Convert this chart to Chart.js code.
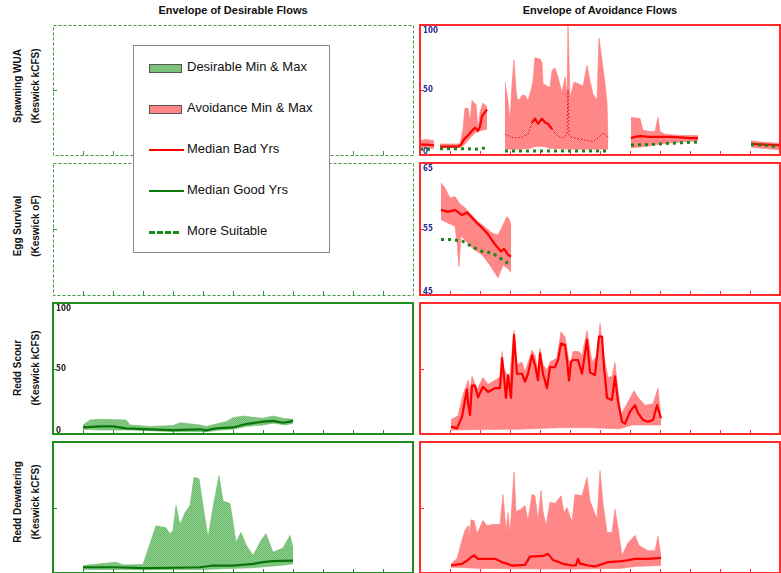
<!DOCTYPE html>
<html>
<head>
<meta charset="utf-8">
<script src="https://cdn.jsdelivr.net/npm/chart.js@4/dist/chart.umd.min.js"></script>
<style>
  html, body { margin: 0; padding: 0; background: #fff; overflow: hidden; }
  #wrap { position: relative; width: 781px; height: 573px; overflow: hidden; font-family: 'Liberation Sans', Arial, sans-serif; }
  canvas { position: absolute; }
  .title { position: absolute; top: 4px; width: 360px; text-align: center; font: bold 11px 'Liberation Sans', Arial, sans-serif; color: #111; }
  .ylab { position: absolute; left: -53px; width: 160px; height: 36px; text-align: center;
          font: bold 10px 'Liberation Sans', Arial, sans-serif; line-height: 18px; color: #111; transform: rotate(-90deg); }
  #legend { position: absolute; left: 133px; top: 45px; width: 195px; height: 206px; background: #fff;
            border: 1px solid #8a8a8a; z-index: 10; }
  .item { position: absolute; left: 15px; height: 16px; font-size: 13px; color: #111; white-space: nowrap; }
  .item span { position: absolute; left: 38px; top: -1px; }
  .sw { position: absolute; left: 0; top: 4px; width: 31px; height: 7px; border: 1px solid #555; }
  .ln { position: absolute; left: 0; top: 7px; width: 35px; height: 0; }
</style>
</head>
<body>
<div id="wrap">
  <div class="title" style="left:53px">Envelope of Desirable Flows</div>
  <div class="title" style="left:420px">Envelope of Avoidance Flows</div>

  <div class="ylab" style="top:68px">Spawning WUA<br>(Keswick kCFS)</div>
  <div class="ylab" style="top:208px">Egg Survival<br>(Keswick oF)</div>
  <div class="ylab" style="top:350px">Redd Scour<br>(Keswick kCFS)</div>
  <div class="ylab" style="top:484px">Redd Dewatering<br>(Keswick kCFS)</div>

  <div id="legend">
    <div class="item" style="top:14px"><div class="sw" style="background:#7cc27c"></div><span>Desirable Min &amp; Max</span></div>
    <div class="item" style="top:55px"><div class="sw" style="background:#ff8484"></div><span>Avoidance Min &amp; Max</span></div>
    <div class="item" style="top:96px"><div class="ln" style="border-top:2px solid #ff0000"></div><span>Median Bad Yrs</span></div>
    <div class="item" style="top:137px"><div class="ln" style="border-top:2px solid #0a7a0a"></div><span>Median Good Yrs</span></div>
    <div class="item" style="top:178px"><div class="ln" style="border-top:3px dashed #1a8a1a; width:30px"></div><span>More Suitable</span></div>
  </div>
</div>

<script>
// eje x en dias (0..360), marcas cada 30
const monthTicks = [30, 60, 90, 120, 150, 180, 210, 240, 270, 300, 330];
const kcfsLabels = [0, 50, 100];
const tempLabels = [45, 55, 65];

// --- Spawning WUA, avoidance (null = corte entre tramos)
const wuaAvoidMax = [[0,11],[5,12],[10,11.5],[14,11], null,
  [20,8.5],[30,8.5],[40,8.5],[43,20],[45,36],[48,36],[50,26],[52,42],[54,40],[56,39],[58,20],[60,33],[63,40],[67,37], null,
  [85,56],[88,42],[90,26],[92,55],[94,73],[96,50],[97,44],[99,42],[102,46],[105,46],[108,42],[111,50],[113,57],[115,75],
  [118,74],[120,74],[122,71],[123,55],[127,53],[130,52],[132,65],[135,67],[138,60],[142,48],[145,60],[147,45],[148,100],
  [150,44],[154,56],[158,55],[163,53],[167,69],[170,57],[173,47],[177,42],[179,90],[182,73],[185,55],[187,40],[188,11], null,
  [211,29],[220,28],[223,19],[230,18],[235,18],[238,29],[240,18],[245,16],[260,15],[278,15], null,
  [331,11],[340,10],[350,9.5],[360,9]];
const wuaAvoidMin = [[0,5.5],[14,5], null,
  [20,5.5],[40,5.5],[45,8.5],[50,13],[55,17],[60,18.6],[67,20], null,
  [85,4.5],[100,4.5],[110,5],[115,6.5],[125,6.5],[130,5],[150,4.5],[170,4.5],[188,4.5], null,
  [211,5.5],[225,6.5],[240,8.5],[260,10],[278,11], null,
  [331,6],[345,5],[360,4]];
const wuaAvoidBad = [[0,8],[7,8],[14,7.5], null,
  [20,6.4],[30,6.4],[38,6.4],[41,8],[44,12],[48,15],[52,18.6],[55,21],[58,18.6],[60,22],[62,30],[65,33],[67,35], null,
  [85,16],[94,13],[102,13.6],[108,16],[112,25],[115,28],[118,24],[122,28],[125,25],[128,24],[132,20],[137,15],[142,13],
  [146,15],[147,16],[148,50],[149,16],[150,14],[155,13],[162,12],[168,11],[173,10],[178,13],[183,17],[188,14], null,
  [211,13],[215,14],[220,14.5],[230,14],[240,14],[250,14],[260,13.5],[270,13],[278,13], null,
  [331,8.5],[345,8],[360,7.5]];
const wuaAvoidSuit = [[0,4.5],[14,4.5], null,
  [20,4.9],[45,4.9],[55,4.4],[67,5.6], null,
  [85,3],[188,3], null,
  [211,7.7],[230,8],[250,9],[278,10], null,
  [331,8.2],[345,7.5],[360,6]];

// --- Egg survival, avoidance (oF)
const eggAvoidMax = [[21,62],[25,61.2],[30,59.7],[35,59.9],[40,58.8],[45,58.2],[52,57.1],[58,56.1],[65,55.3],[72,54.4],
  [78,54.1],[83,55.6],[87,56.9],[89,56.5],[91,55.6]];
const eggAvoidMin = [[21,56.4],[28,55.9],[35,55.4],[37,53],[39,49.3],[41,54],[47,53],[53,52],[62,51.1],[70,49.5],
  [78,47.6],[83,49.5],[88,49],[91,48.4]];
const eggAvoidBad = [[21,57.9],[28,57.6],[35,57.9],[42,57.1],[47,57.5],[52,56.7],[57,55.9],[62,55.2],[67,54.4],[72,53.3],
  [77,52.3],[81,51.6],[84,52.0],[88,51.1],[91,50.8]];
const eggAvoidSuit = [[21,53.4],[31,53.4],[42,53.2],[49,52.6],[55,52.1],[62,51.6],[72,51.4],[80,50.6],[88,49.8]];

// --- Redd scour
const scourDesMax = [[30,6.9],[37,10.7],[47,11.2],[73,10.7],[77,6.9],[97,5.8],[120,6.4],[127,8.6],[147,6.9],[153,5.8],
  [173,9.4],[180,12.5],[190,13.7],[200,12.7],[210,12],[220,13.7],[230,12],[240,11.2]];
const scourDesMin = [[30,3.6],[47,3],[80,3],[120,1.8],[153,1.8],[167,3],[180,3.6],[193,5.8],[210,6.9],[220,8.3],[233,6.9],[240,8.3]];
const scourDesGood = [[30,5],[47,5.8],[60,5.8],[73,4.3],[97,3.6],[120,3],[147,3.6],[153,2.8],[163,4.3],[180,5],[193,7.6],
  [210,9.4],[220,10],[230,8.6],[237,9.4],[240,10.3]];

const scourAvoidMax = [[31,11],[38,14],[43,30],[48,41],[50,33],[52,44],[57,34],[63,43],[68,38],[75,41],[81,44],[82,63],
  [84,50],[86,47],[88,34],[90,47],[94,79],[97,52.7],[102,55],[105,47.6],[112,64],[115,60],[118,49],[120,65.4],[123,52.7],
  [127,49],[130,55],[137,58],[141,78],[145,74],[148,60],[150,52.7],[153,63],[159,63],[162,60],[167,79],[172,55],[177,60],
  [180,84.5],[183,63],[188,43],[192,44],[195,54.5],[197,40],[201,15],[207,23],[214,33],[218,28],[225,22],[233,23],
  [238,35],[241,12]];
const scourAvoidMin = [[31,3],[60,3.5],[100,3.7],[140,4.8],[170,4.8],[200,4],[212,6.9],[241,6.9]];
const scourAvoidBad = [[31,5.6],[37,4.3],[42,13],[45,26],[47,34],[48,24],[50,14.5],[52,37],[55,37],[58,28],[63,36],[68,32],
  [75,35],[80,35],[82,58],[84,44],[86,27.5],[88,45],[91,27.5],[94,75.6],[97,46],[102,46],[105,40],[108,46],[112,60],
  [115,52.7],[118,41],[120,61.6],[123,46],[127,35],[130,51],[135,51],[138,56.5],[141,69],[145,68],[147,56.5],[149,41],
  [151,55],[153,56.5],[158,56.5],[162,46],[167,71.8],[170,47],[175,45],[179,74.3],[182,74.3],[184,51],[187,27.5],
  [192,26],[195,44],[198,25],[202,9.4],[205,7.9],[210,17],[215,22],[218,16],[223,10.7],[228,9.4],[233,10.7],[237,22],[241,12]];

// --- Redd dewatering
const dewatDesMax = [[30,5.7],[63,8.3],[70,6.2],[90,6.5],[93,13.4],[103,36],[113,34.6],[117,30],[120,32.5],[123,51.5],
  [127,37],[132,46],[137,51.5],[141,73],[146,72],[150,51.5],[155,27.3],[160,50],[166,74.4],[170,55],[177,53],[180,38.8],
  [183,23.5],[188,31],[193,21.6],[200,13.4],[208,24.8],[213,30],[220,15.9],[230,19],[237,28.7],[240,19]];
const dewatDesMin = [[30,2.7],[100,2.5],[150,2.7],[200,4],[230,6],[240,7]];
const dewatDesGood = [[30,4.4],[63,4.4],[90,3.7],[120,4],[147,4.4],[160,5.7],[180,5.7],[200,7],[210,8.3],[220,9],[240,9.5]];

const dewatAvoidMax = [[31,7],[37,11],[42,25],[45,32.5],[48,36],[49,22],[51,40.6],[54,40],[57,30],[63,40],[67,36],[72,37],
  [80,37],[83,60],[86,32.5],[88,46],[90,30],[94,77],[96,47],[101,48.7],[105,51.5],[108,40],[112,60],[115,59],[118,40],
  [121,63],[123,47],[126,36],[130,54],[135,53],[141,59],[144,46],[147,50],[152,39],[155,60],[162,59],[167,73],[170,55],
  [177,41],[180,78],[183,53],[187,31],[192,31],[195,48.7],[198,34.6],[202,13.4],[208,23],[215,28.7],[219,21],[228,17],
  [235,17],[238,28],[241,12.3]];
const dewatAvoidMin = [[31,4.4],[60,3.5],[100,3.2],[150,3],[200,3.5],[215,5],[241,5.7]];
const dewatAvoidBad = [[31,5.7],[42,7],[48,10],[51,12],[54,13.4],[58,10.8],[75,10.8],[82,8.3],[92,5.7],[105,6.2],[110,12.5],
  [123,13],[128,14.6],[133,10],[143,7],[152,5.7],[156,6],[158,10.8],[160,7],[162,7],[168,5.7],[175,5],[188,8.3],[202,9],
  [215,10.8],[228,10.8],[241,11.5]];

// convierte pares [dia, valor] a puntos; null => hueco
const pts = arr => arr.map((p, i) => p ? { x: p[0], y: p[1] } : { x: arr[i - 1][0] + 1, y: null });

// relleno con textura tipo trama
function hatch(c1, c2) {
  const p = document.createElement('canvas');
  p.width = p.height = 2;
  const g = p.getContext('2d');
  g.fillStyle = c1; g.fillRect(0, 0, 2, 2);
  g.fillStyle = c2; g.fillRect(0, 0, 1, 1); g.fillRect(1, 1, 1, 1);
  return g.createPattern(p, 'repeat');
}
const redFill = hatch('#ff7b7b', '#ff9494');
const greenFill = hatch('#6ebd6e', '#8ccc8c');

const RED = '#ff2b2b', GREEN = '#1e8e1e';
const colLeft = [53, 420], rowTop = [25, 163, 303, 442], rowH = [130, 132, 131, 131];

function band(max, min, fillPat, edge) {
  return [
    { data: pts(max), fill: '+1', backgroundColor: fillPat, borderColor: edge, borderWidth: 1, order: 3 },
    { data: pts(min), fill: false, borderColor: edge, borderWidth: 1, order: 2 }
  ];
}
const inRanges = (x, r) => (r || []).some(([a, b]) => x >= a && x < b);
function bad(arr, thin) {
  return { data: pts(arr), borderColor: '#ff0000', borderWidth: 2.2, fill: false, order: 1,
    segment: {
      borderWidth: c => inRanges(c.p0.parsed.x, thin) ? 1 : undefined,
      borderDash: c => inRanges(c.p0.parsed.x, thin) ? [1.5, 2] : undefined
    } };
}
const good = arr => ({ data: pts(arr), borderColor: '#0a740a', borderWidth: 2.2, fill: false, order: 1 });
const suit = arr => ({ data: pts(arr), borderColor: '#17861a', borderWidth: 3, borderDash: [3, 4], fill: false, order: 0 });

const panels = [
  { col: 0, row: 0, color: '#3a9a3a', dash: [3, 2], yMin: 0, yMax: 100, marks: [50], labels: [], datasets: [] },
  { col: 0, row: 1, color: '#3a9a3a', dash: [3, 2], yMin: 45, yMax: 65, marks: [55], labels: [], datasets: [] },
  { col: 0, row: 2, color: GREEN, yMin: 0, yMax: 100, marks: [50], labels: kcfsLabels, labelColor: '#2a2a2a',
    datasets: [...band(scourDesMax, scourDesMin, greenFill, 'rgba(110,189,110,0.6)'), good(scourDesGood)] },
  { col: 0, row: 3, color: GREEN, yMin: 0, yMax: 100, marks: [50], labels: [],
    datasets: [...band(dewatDesMax, dewatDesMin, greenFill, 'rgba(110,189,110,0.6)'), good(dewatDesGood)] },
  { col: 1, row: 0, color: RED, yMin: 0, yMax: 100, marks: [50], labels: kcfsLabels, labelColor: '#2b2f9a',
    datasets: [...band(wuaAvoidMax, wuaAvoidMin, redFill, 'rgba(255,123,123,0.6)'),
               bad(wuaAvoidBad, [[85, 111], [131, 189]]), suit(wuaAvoidSuit)] },
  { col: 1, row: 1, color: RED, yMin: 45, yMax: 65, marks: [55], labels: tempLabels, labelColor: '#2b2f9a',
    datasets: [...band(eggAvoidMax, eggAvoidMin, redFill, 'rgba(255,123,123,0.6)'), bad(eggAvoidBad), suit(eggAvoidSuit)] },
  { col: 1, row: 2, color: RED, yMin: 0, yMax: 100, marks: [50], labels: [],
    datasets: [...band(scourAvoidMax, scourAvoidMin, redFill, 'rgba(255,123,123,0.6)'), bad(scourAvoidBad)] },
  { col: 1, row: 3, color: RED, yMin: 0, yMax: 100, marks: [50], labels: [],
    datasets: [...band(dewatAvoidMax, dewatAvoidMin, redFill, 'rgba(255,123,123,0.6)'), bad(dewatAvoidBad)] }
];

// marco, marcas y etiquetas dentro del area de trazado
const framePlugin = {
  id: 'frame',
  afterDatasetsDraw(chart, args, o) {
    const { ctx, chartArea: a, scales: { x, y } } = chart;
    ctx.save();
    ctx.strokeStyle = o.color;
    ctx.lineWidth = 1;
    ctx.beginPath();
    monthTicks.forEach(t => {
      const px = Math.round(x.getPixelForValue(t)) + 0.5;
      ctx.moveTo(px, a.bottom); ctx.lineTo(px, a.bottom - 4);
    });
    o.marks.forEach(v => {
      const py = Math.round(y.getPixelForValue(v)) + 0.5;
      ctx.moveTo(a.left, py); ctx.lineTo(a.left + 4, py);
    });
    ctx.stroke();
    if (o.dash) {
      ctx.setLineDash(o.dash);
      ctx.strokeRect(a.left + 0.5, a.top + 0.5, a.width, a.height);
    } else {
      ctx.lineWidth = 2;
      ctx.strokeRect(a.left, a.top, a.width, a.height);
    }
    ctx.setLineDash([]);
    ctx.fillStyle = o.labelColor || '#000';
    ctx.font = "bold 8px 'Liberation Sans Narrow', 'DejaVu Sans Condensed', sans-serif";
    ctx.textAlign = 'left';
    o.labels.forEach((v, i) => {
      const py = y.getPixelForValue(v);
      if (i === o.labels.length - 1) { ctx.textBaseline = 'top'; ctx.fillText(String(v), a.left + 3, py + 2); }
      else if (i === 0) { ctx.textBaseline = 'bottom'; ctx.fillText(String(v), a.left + 3, py + 1); }
      else { ctx.textBaseline = 'middle'; ctx.fillText(String(v), a.left + 3, py); }
    });
    ctx.restore();
  }
};

const wrap = document.getElementById('wrap');
const PAD = 6;
panels.forEach(p => {
  const cv = document.createElement('canvas');
  cv.width = 360 + PAD * 2;
  cv.height = rowH[p.row] + PAD * 2;
  cv.style.left = (colLeft[p.col] - PAD) + 'px';
  cv.style.top = (rowTop[p.row] - PAD) + 'px';
  wrap.insertBefore(cv, document.getElementById('legend'));

  new Chart(cv, {
    type: 'line',
    data: { datasets: p.datasets },
    options: {
      responsive: false,
      animation: false,
      events: [],
      layout: { padding: PAD },
      elements: { point: { radius: 0 }, line: { tension: 0, borderJoinStyle: 'round' } },
      plugins: {
        legend: { display: false },
        tooltip: { enabled: false },
        frame: { color: p.color, dash: p.dash, marks: p.marks, labels: p.labels, labelColor: p.labelColor }
      },
      scales: {
        x: { type: 'linear', min: 0, max: 360, display: false },
        y: { type: 'linear', min: p.yMin, max: p.yMax, display: false }
      }
    },
    plugins: [framePlugin]
  });
});
</script>
</body>
</html>
